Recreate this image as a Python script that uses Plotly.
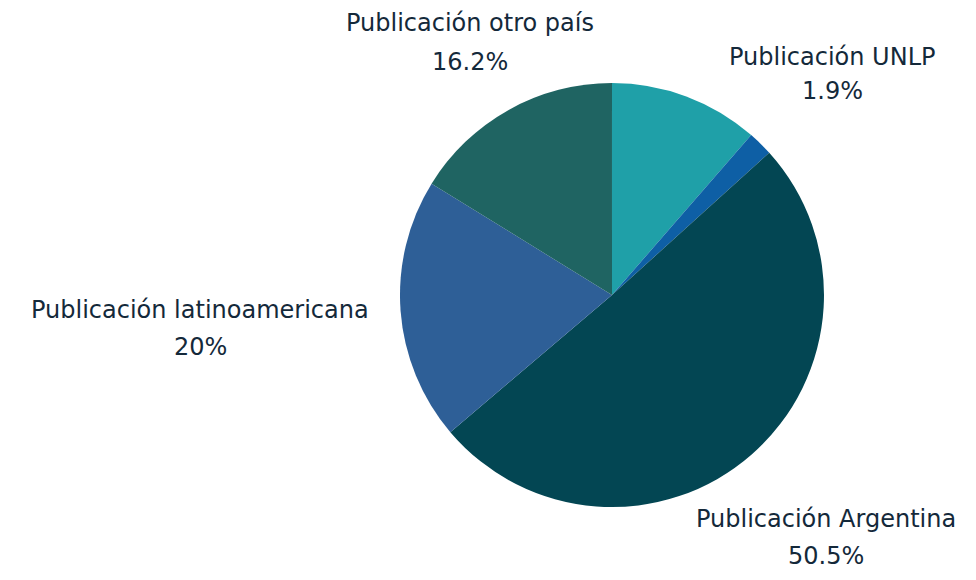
import plotly.graph_objects as go

# ---- data ----
labels = ["Sin especificar", "Publicación UNLP", "Publicación Argentina",
          "Publicación latinoamericana", "Publicación otro país"]
values = [11.4, 1.9, 50.5, 20.0, 16.2]
show_label = [False, True, True, True, True]

# ---- style ----
colors = ["#1fa0a8", "#0e5fa5", "#034653", "#2e5f97", "#1f6462"]
text_color = "#14293a"
font_family = "DejaVu Sans, sans-serif"
font_size = 24

# label block positions (page pixels): (x center, name line y, percent line y)
label_pos = {
    "Publicación UNLP": (832, 57, 91),
    "Publicación Argentina": (826, 519, 556),
    "Publicación latinoamericana": (200, 310, 347),
    "Publicación otro país": (470, 23, 62),
}

OFFSET, FW, FH = 8, 960, 564  # page body margin and figure size


def to_paper(x, y):
    return (x - OFFSET) / FW, 1 - (y - OFFSET) / FH


fig = go.Figure(go.Pie(
    labels=labels,
    values=values,
    sort=False,
    direction="clockwise",
    rotation=0,
    marker=dict(colors=colors, line=dict(width=0)),
    textinfo="none",
    automargin=False,
    showlegend=False,
    hoverinfo="label+percent",
    domain=dict(x=[0.4083, 0.85], y=[0.1152, 0.8670]),
))

total = sum(values)
annotations = []
for lab, val, show in zip(labels, values, show_label):
    if not show:
        continue
    pct = round(val / total * 100, 1)
    pct_text = f"{pct:g}%"
    cx, y1, y2 = label_pos[lab]
    for txt, yy in ((lab, y1), (pct_text, y2)):
        xp, yp = to_paper(cx, yy)
        annotations.append(dict(
            x=xp, y=yp, xref="paper", yref="paper",
            text=txt, showarrow=False,
            xanchor="center", yanchor="middle", borderpad=0,
            font=dict(family=font_family, size=font_size, color=text_color),
        ))

fig.update_layout(
    width=FW, height=FH,
    margin=dict(l=0, r=0, t=0, b=0, autoexpand=False),
    paper_bgcolor="white",
    plot_bgcolor="white",
    annotations=annotations,
)

fig.write_html("out.html")
